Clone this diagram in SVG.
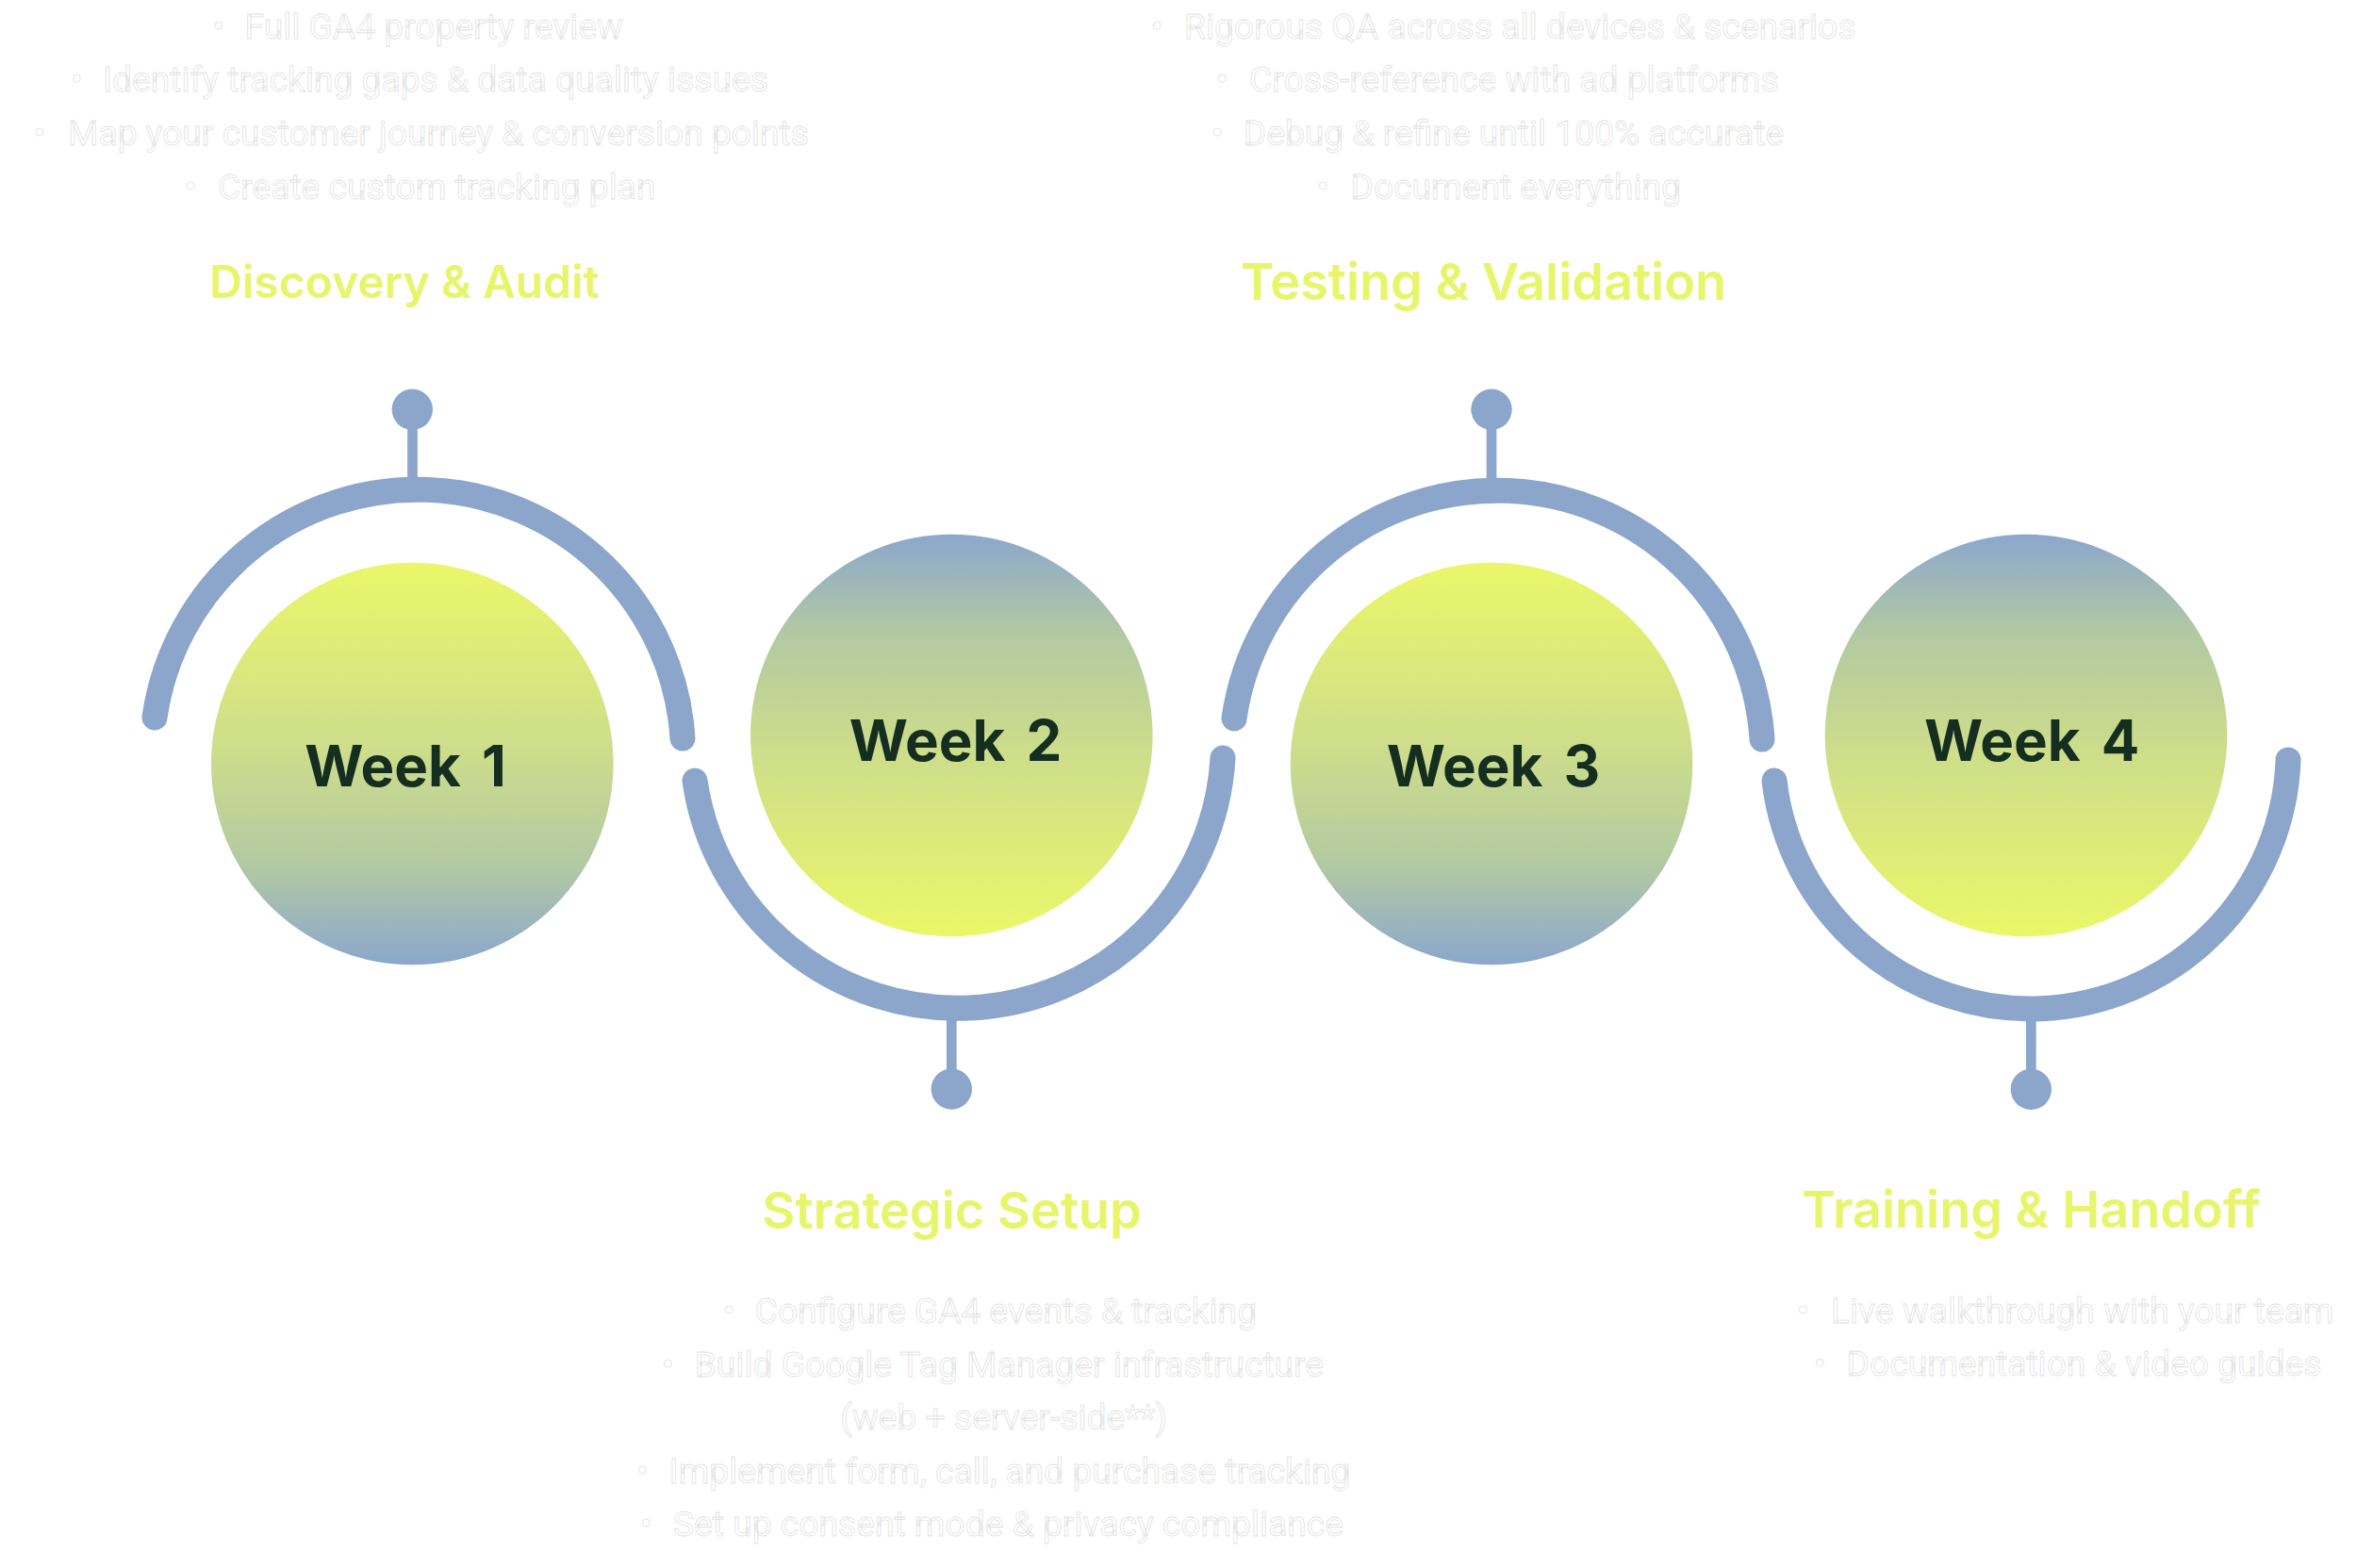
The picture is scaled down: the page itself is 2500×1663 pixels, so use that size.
<svg xmlns="http://www.w3.org/2000/svg" width="2500" height="1663" viewBox="0 0 2500 1663">
  <defs>
    <linearGradient id="gDown" x1="0" y1="0" x2="0" y2="1">
      <stop offset="0" stop-color="#ebf769"/>
      <stop offset="0.45" stop-color="#cede8a"/>
      <stop offset="0.75" stop-color="#b3c9a2"/>
      <stop offset="1" stop-color="#8ba7cd"/>
    </linearGradient>
    <linearGradient id="gUp" x1="0" y1="1" x2="0" y2="0">
      <stop offset="0" stop-color="#ebf769"/>
      <stop offset="0.45" stop-color="#cede8a"/>
      <stop offset="0.75" stop-color="#b3c9a2"/>
      <stop offset="1" stop-color="#8ba7cd"/>
    </linearGradient>
    <style>
      .arc { fill: none; stroke: #8ba6ca; stroke-width: 27; stroke-linecap: round; }
      .stem { stroke: #8ba6ca; stroke-width: 10.7; }
      .dot { fill: #8ba6ca; }
      .week { font-family: Inter, "Liberation Sans", sans-serif; font-weight: 700; font-size: 60px; fill: #152e20; word-spacing: 8px; }
      .title { font-family: Inter, "Liberation Sans", sans-serif; font-weight: 600; fill: #e7f56a; text-anchor: middle; }
      .item { font-family: Roboto, "Liberation Sans", sans-serif; font-size: 37.2px; fill: #ffffff; stroke: #e2e2e2; stroke-width: 0.8; }
    </style>
  </defs>
  <rect width="2500" height="1663" fill="#ffffff"/>

  <g id="connectors">
    <path class="arc" d="M164,761 A281.7,281.7 0 0 1 724,783"/>
    <path class="arc" d="M737,828 A281.7,281.7 0 0 0 1297,804"/>
    <path class="arc" d="M1309,762 A281.7,281.7 0 0 1 1869,784"/>
    <path class="arc" d="M1882,828 A273.5,273.5 0 0 0 2427,806"/>
    <line class="stem" x1="437.5" y1="434" x2="437.5" y2="522"/>
    <circle class="dot" cx="437.3" cy="434.3" r="21.7"/>
    <line class="stem" x1="1009.3" y1="1066" x2="1009.3" y2="1155"/>
    <circle class="dot" cx="1009.3" cy="1155" r="21.7"/>
    <line class="stem" x1="1582" y1="434" x2="1582" y2="522"/>
    <circle class="dot" cx="1582" cy="434.3" r="21.7"/>
    <line class="stem" x1="2154.3" y1="1066" x2="2154.3" y2="1155"/>
    <circle class="dot" cx="2154.3" cy="1155.3" r="21.7"/>
  </g>

  <g id="week1">
    <circle cx="437.3" cy="810" r="213.3" fill="url(#gDown)"/>
    <text class="week" x="323.3" y="834">Week 1</text>
    <text class="title" x="429" y="316" font-size="48">Discovery &amp; Audit</text>
    <text class="item" y="40.7"><tspan x="225.5">•</tspan><tspan x="259.5">Full GA4 property review</tspan></text>
    <text class="item" y="97.3"><tspan x="75">•</tspan><tspan x="109">Identify tracking gaps &amp; data quality issues</tspan></text>
    <text class="item" y="154"><tspan x="36">•</tspan><tspan x="72">Map your customer journey &amp; conversion points</tspan></text>
    <text class="item" y="210.7"><tspan x="196">•</tspan><tspan x="231">Create custom tracking plan</tspan></text>
  </g>

  <g id="week2">
    <circle cx="1009.3" cy="780" r="213.3" fill="url(#gUp)"/>
    <text class="week" x="900.7" y="807.3">Week 2</text>
    <text class="title" x="1009.5" y="1303.3" font-size="54">Strategic Setup</text>
    <text class="item" y="1403.3"><tspan x="767">•</tspan><tspan x="800.7">Configure GA4 events &amp; tracking</tspan></text>
    <text class="item" y="1460"><tspan x="702">•</tspan><tspan x="736.7">Build Google Tag Manager infrastructure</tspan></text>
    <text class="item" y="1516" x="891.2">(web + server-side**)</text>
    <text class="item" y="1572.7"><tspan x="675">•</tspan><tspan x="709.6">Implement form, call, and purchase tracking</tspan></text>
    <text class="item" y="1629.3"><tspan x="679">•</tspan><tspan x="714">Set up consent mode &amp; privacy compliance</tspan></text>
  </g>

  <g id="week3">
    <circle cx="1582" cy="810" r="213.3" fill="url(#gDown)"/>
    <text class="week" x="1470.7" y="834">Week 3</text>
    <text class="title" x="1573.5" y="318" font-size="54">Testing &amp; Validation</text>
    <text class="item" y="40.7"><tspan x="1221">•</tspan><tspan x="1256">Rigorous QA across all devices &amp; scenarios</tspan></text>
    <text class="item" y="97.3"><tspan x="1290">•</tspan><tspan x="1325">Cross-reference with ad platforms</tspan></text>
    <text class="item" y="154"><tspan x="1285">•</tspan><tspan x="1318.8">Debug &amp; refine until 100% accurate</tspan></text>
    <text class="item" y="210.7"><tspan x="1397">•</tspan><tspan x="1432.5">Document everything</tspan></text>
  </g>

  <g id="week4">
    <circle cx="2149" cy="780" r="213.3" fill="url(#gUp)"/>
    <text class="week" x="2041" y="807.3">Week 4</text>
    <text class="title" x="2154.5" y="1301.7" font-size="54">Training &amp; Handoff</text>
    <text class="item" y="1403.3"><tspan x="1906">•</tspan><tspan x="1942">Live walkthrough with your team</tspan></text>
    <text class="item" y="1459.3"><tspan x="1924">•</tspan><tspan x="1958.6">Documentation &amp; video guides</tspan></text>
  </g>
</svg>
